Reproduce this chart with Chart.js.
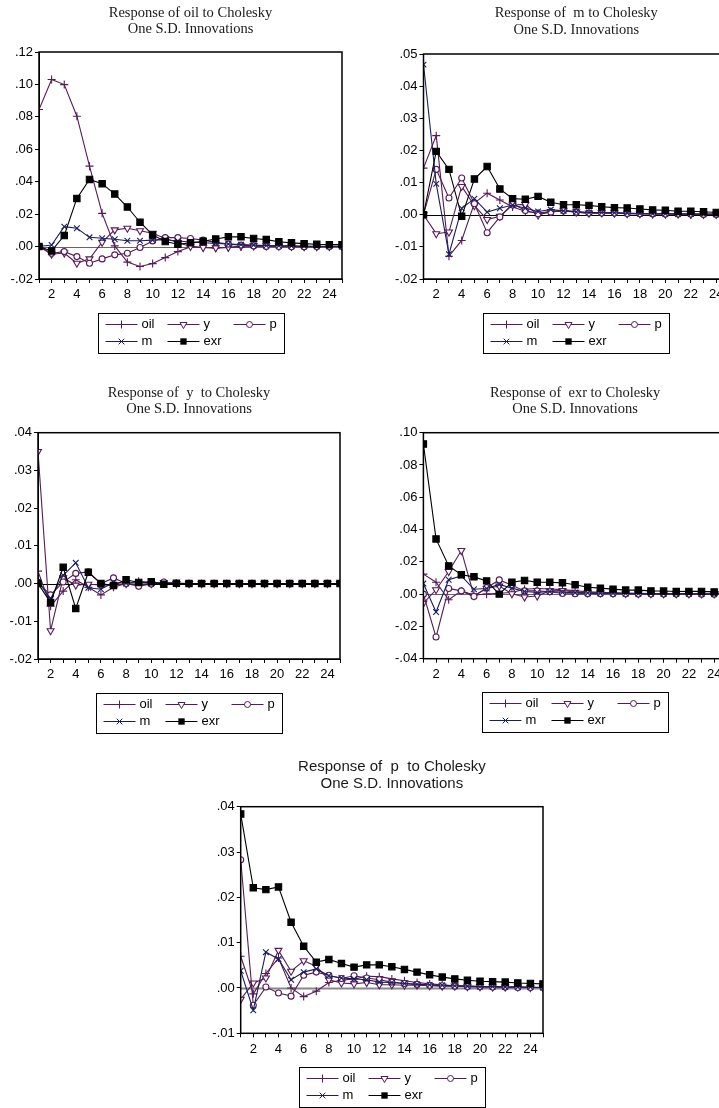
<!DOCTYPE html>
<html>
<head>
<meta charset="utf-8">
<script src="https://cdn.jsdelivr.net/npm/chart.js@4/dist/chart.umd.min.js"></script>
<style>
  html, body { margin: 0; padding: 0; background: #fff; overflow: hidden; }
  body { width: 719px; height: 1108px; position: relative; }
  canvas { position: absolute; }
</style>
</head>
<body>
<canvas id="c1"></canvas>
<canvas id="c2"></canvas>
<canvas id="c3"></canvas>
<canvas id="c4"></canvas>
<canvas id="c5"></canvas>
<script>
// DADOS
const periodos = [1,2,3,4,5,6,7,8,9,10,11,12,13,14,15,16,17,18,19,20,21,22,23,24,25];
const choques = ["oil", "y", "p", "m", "exr"];
const ticksX = [2,4,6,8,10,12,14,16,18,20,22,24];

// Response of oil
const oil_oil = [.0845,.103,.0999,.0804,.0496,.0205,.0004,-.0096,-.0123,-.0105,-.0068,-.0031,-.0002,-.0006,-.0008,-.0006,-.0003,.0000,.0001,.0002,.0001,.0000,.0000,.0000,.0000];
const oil_y   = [0,-.0047,-.004,-.0103,-.0076,.0027,.0103,.0113,.0098,.0082,.005,.0025,.0001,-.0006,-.0008,-.0005,.0003,.0006,.0005,.0003,.0001,-.0001,-.0001,.0000,.0000];
const oil_p   = [0,-.0041,-.0031,-.0062,-.0103,-.0076,-.0051,-.0041,-.0006,.0035,.0055,.0055,.005,.004,.0026,.0015,.0009,.0004,.0001,.0000,-.0001,-.0001,.0000,.0000,.0000];
const oil_m   = [0,.001,.0123,.0113,.0057,.0051,.0045,.0036,.0036,.004,.0042,.0034,.0028,.0024,.002,.0016,.0012,.0009,.0007,.0005,.0004,.0003,.0002,.0002,.0001];
const oil_exr = [0,-.0027,.0068,.0297,.0414,.0388,.0324,.0244,.015,.0072,.0031,.0014,.0023,.0033,.0047,.006,.006,.005,.0043,.003,.0023,.0018,.0014,.0012,.0012];

// Response of m
const m_oil = [.0145,.0246,-.0129,-.008,.0036,.0067,.0046,.0024,.0011,.0005,.001,.0012,.001,.0006,.0007,.0006,.0004,.0003,.0003,.0002,.0002,.0001,.0001,.0001,.0001];
const m_y   = [0,-.0059,-.0054,.0088,.0028,-.0015,-.0005,.003,.0032,-.0001,.001,.0012,.0008,.0005,.0006,.0005,.0003,.0003,.0002,.0002,.0002,.0001,.0001,.0001,.0001];
const m_p   = [0,.0141,.0052,.0114,.0034,-.0056,-.0007,.0034,.0013,.0003,.0008,.0013,.0008,.0005,.0005,.0005,.0004,.0003,.0003,.0002,.0002,.0002,.0001,.0001,.0001];
const m_m   = [.0467,.0096,-.0123,.002,.005,.0008,.002,.003,.002,.001,.0016,.0012,.0009,.0007,.0007,.0006,.0005,.0004,.0003,.0003,.0002,.0002,.0002,.0001,.0001];
const m_exr = [0,.0197,.0141,-.0005,.0111,.015,.008,.005,.0048,.0057,.0039,.0031,.0031,.0029,.0025,.0022,.0021,.0018,.0015,.0014,.0011,.0011,.0009,.0007,.0005];

// Response of y
const y_oil = [.0033,-.006,-.002,.001,-.001,-.003,-.001,.0000,.0006,.0002,.0002,.0001,0,0,0,0,0,0,0,0,0,0,0,0,0];
const y_y   = [.035,-.0125,.0015,-.0004,-.0002,-.0004,-.0005,.0000,-.0004,.0000,.0002,0,0,0,0,0,0,0,0,0,0,0,0,0,0];
const y_p   = [.0002,-.003,.0004,.0027,.0031,.0000,.0015,.0000,-.0007,-.0001,.0004,.0001,0,0,0,0,0,0,0,0,0,0,0,0,0];
const y_m   = [.0006,-.004,.0022,.0055,-.0011,-.0015,.0003,.0001,.0002,.0001,0,0,0,0,0,0,0,0,0,0,0,0,0,0,0];
const y_exr = [0,-.005,.0043,-.0066,.003,.0000,-.0005,.001,.0003,.0005,-.0002,.0001,0,0,0,0,0,0,0,0,0,0,0,0,0];

// Response of exr
const exr_oil = [.0124,.0074,-.0035,.002,-.0005,.0000,.0005,.001,.003,.0035,.0032,.0028,.002,.0015,.0011,.0008,.0006,.0005,.0004,.0003,.0003,.0002,.0002,.0001,.0001];
const exr_y   = [-.0056,.0027,.014,.027,-.001,.0035,.005,.0002,-.0018,-.0012,.002,.0022,.0012,.0008,.0008,.0006,.0004,.0003,.0003,.0002,.0002,.0002,.0001,.0001,.0001];
const exr_p   = [0,-.0266,.0035,.002,-.0015,.004,.0088,.0055,.002,.002,.0015,.0004,.0002,.0003,.0003,.0002,.0002,.0001,.0001,.0001,.0001,.0001,0,0,0];
const exr_m   = [.0066,-.0111,.0089,.0113,.003,.0035,.006,.0037,.0016,.001,.0016,.0012,.0009,.0007,.0006,.0005,.0004,.0003,.0003,.0002,.0002,.0002,.0001,.0001,.0001];
const exr_exr = [.093,.0342,.0175,.012,.0107,.0082,.0000,.0074,.0085,.0074,.0074,.007,.0058,.0043,.0037,.0031,.0025,.0025,.002,.0019,.0016,.0017,.0017,.0014,.0012];

// Response of p
const p_oil = [.007,-.0013,.0032,.0066,.0000,-.0019,-.0007,.0012,.0017,.002,.0026,.0025,.002,.0016,.0012,.0009,.0007,.0005,.0004,.0003,.0003,.0002,.0002,.0001,.0001];
const p_y   = [-.0025,.0011,.0022,.0083,.0037,.006,.0048,.0018,.0011,.0009,.0012,.0007,.0007,.0006,.0006,.0005,.0004,.0004,.0003,.0003,.0002,.0002,.0002,.0001,.0001];
const p_p   = [.0283,-.0038,.0002,-.0011,-.0018,.0028,.0035,.0028,.0021,.0027,.0022,.0018,.0013,.001,.0008,.0006,.0005,.0004,.0003,.0003,.0002,.0002,.0001,.0001,.0001];
const p_m   = [.0038,-.0049,.0079,.0064,.0018,.0035,.0042,.0027,.0022,.002,.0018,.0013,.0012,.001,.0008,.0007,.0006,.0005,.0004,.0003,.0003,.0002,.0002,.0002,.0001];
const p_exr = [.0384,.0221,.0217,.0223,.0145,.0092,.0057,.0063,.0054,.0046,.0051,.0051,.0047,.0041,.0035,.0029,.0024,.002,.0017,.0015,.0014,.0013,.0011,.001,.0009];

// ESTILOS
const roxo = "#561a56";
const azul = "#1a1e60";
const cores = [roxo, roxo, roxo, azul, "#000"];
const marcadores = ["cross", "triangle", "circle", "crossRot", "rect"];
const raios = [4, 4, 3, 4, 4.5];
const rotacoes = [0, 180, 0, 0, 0];
const preenchimentos = ["#fff", "#fff", "#fff", "#fff", "#000"];
const fonteEixo = { family: "'Liberation Sans', Arial, sans-serif", size: 13 };

function formatarY(v) {
    const s = Math.abs(v).toFixed(2).replace(/^0/, "");
    return (v < -1e-9 ? "-" : "") + s;
}

// desenha um marcador da legenda
function marcador(ctx, i, x, y) {
    const r = raios[i];
    ctx.save();
    ctx.strokeStyle = cores[i];
    ctx.fillStyle = preenchimentos[i];
    ctx.lineWidth = 1;
    ctx.beginPath();
    switch (marcadores[i]) {
        case "cross":
            ctx.moveTo(x - r, y); ctx.lineTo(x + r, y);
            ctx.moveTo(x, y - r); ctx.lineTo(x, y + r);
            ctx.stroke();
            break;
        case "crossRot":
            const d = r * Math.SQRT1_2;
            ctx.moveTo(x - d, y - d); ctx.lineTo(x + d, y + d);
            ctx.moveTo(x - d, y + d); ctx.lineTo(x + d, y - d);
            ctx.stroke();
            break;
        case "triangle":
            ctx.moveTo(x - r * 0.87, y - r * 0.5);
            ctx.lineTo(x + r * 0.87, y - r * 0.5);
            ctx.lineTo(x, y + r);
            ctx.closePath();
            ctx.fill(); ctx.stroke();
            break;
        case "circle":
            ctx.arc(x, y, r, 0, Math.PI * 2);
            ctx.fill(); ctx.stroke();
            break;
        case "rect":
            const s = r * Math.SQRT1_2;
            ctx.rect(x - s, y - s, 2 * s, 2 * s);
            ctx.fill();
            break;
    }
    ctx.restore();
}

// plugin: linha zero, moldura, titulo e legenda no estilo EViews
const evPainel = {
    id: "evPainel",
    beforeDatasetsDraw(chart, args, opts) {
        const ctx = chart.ctx, a = chart.chartArea;
        const y0 = Math.round(chart.scales.y.getPixelForValue(0)) + 0.5;
        ctx.save();
        ctx.strokeStyle = opts.corZero;
        ctx.lineWidth = opts.larguraZero;
        ctx.beginPath();
        ctx.moveTo(a.left, y0);
        ctx.lineTo(a.right, y0);
        ctx.stroke();
        ctx.restore();
    },
    afterDraw(chart, args, opts) {
        const ctx = chart.ctx, a = chart.chartArea;
        const cx = (a.left + a.right) / 2;
        ctx.save();
        // moldura
        ctx.strokeStyle = "#000";
        ctx.lineWidth = 1.5;
        ctx.strokeRect(a.left, a.top, a.right - a.left, a.bottom - a.top);

        // titulo
        ctx.fillStyle = "#1a1a1a";
        ctx.font = opts.fonteTitulo;
        ctx.textAlign = "center";
        ctx.textBaseline = "middle";
        ctx.fillText(opts.titulo[0], cx, opts.tituloY[0]);
        ctx.fillText(opts.titulo[1], cx, opts.tituloY[1]);

        // legenda
        const bw = 186, bh = 40;
        const bx = Math.round(cx - bw / 2) + 0.5;
        const by = Math.round(a.bottom + 33.5) + 0.5;
        ctx.lineWidth = 1;
        ctx.strokeRect(bx, by, bw, bh);
        const colX = [7, 69, 135];
        const linY = [11, 28];
        ctx.font = "13px 'Liberation Sans', Arial, sans-serif";
        ctx.textAlign = "left";
        choques.forEach(function (nome, i) {
            const x0 = bx + colX[i % 3];
            const yy = by + linY[i < 3 ? 0 : 1];
            ctx.strokeStyle = cores[i];
            ctx.beginPath();
            ctx.moveTo(x0, yy);
            ctx.lineTo(x0 + 32, yy);
            ctx.stroke();
            marcador(ctx, i, x0 + 16, yy);
            ctx.fillStyle = "#000";
            ctx.fillText(nome, x0 + 36, yy);
        });
        ctx.restore();
    }
};

function criarPainel(id, cfg) {
    const canvas = document.getElementById(id);
    canvas.width = cfg.w;
    canvas.height = cfg.h;
    canvas.style.left = cfg.x + "px";
    canvas.style.top = cfg.y + "px";
    const alturaX = 24;

    const datasets = choques.map(function (nome, i) {
        return {
            label: nome,
            data: periodos.map(function (p, k) { return { x: p, y: cfg.series[i][k] }; }),
            borderColor: cores[i],
            borderWidth: 1.1,
            pointStyle: marcadores[i],
            pointRadius: raios[i],
            pointRotation: rotacoes[i],
            pointBackgroundColor: preenchimentos[i],
            pointBorderColor: cores[i],
            pointBorderWidth: 1.1,
            tension: 0,
            fill: false
        };
    }).reverse(); // exr e m por baixo

    new Chart(canvas, {
        type: "line",
        data: { datasets: datasets },
        options: {
            responsive: false,
            animation: false,
            events: [],
            layout: { padding: { left: 0, top: cfg.area.t, right: cfg.w - cfg.area.r, bottom: cfg.h - cfg.area.b - alturaX } },
            scales: {
                x: {
                    type: "linear", min: 1, max: 25,
                    afterFit: function (s) { s.height = alturaX; },
                    afterBuildTicks: function (s) { s.ticks = periodos.map(function (v) { return { value: v }; }); },
                    ticks: {
                        autoSkip: false, maxRotation: 0, padding: 4, color: "#000", font: fonteEixo,
                        callback: function (v) { return ticksX.indexOf(v) >= 0 ? String(v) : ""; }
                    },
                    grid: { drawOnChartArea: false, drawTicks: true, tickLength: 4, color: "#000", lineWidth: 1 },
                    border: { display: true, color: "#000" }
                },
                y: {
                    min: cfg.yMin, max: cfg.yMax,
                    afterFit: function (s) { s.width = cfg.area.l; },
                    ticks: { stepSize: cfg.passo, padding: 2, color: "#000", font: fonteEixo, callback: formatarY },
                    grid: { drawOnChartArea: false, drawTicks: true, tickLength: 4, color: "#000", lineWidth: 1 },
                    border: { display: true, color: "#000" }
                }
            },
            plugins: {
                legend: { display: false },
                tooltip: { enabled: false },
                evPainel: {
                    titulo: cfg.titulo,
                    tituloY: cfg.tituloY,
                    fonteTitulo: cfg.fonteTitulo,
                    corZero: cfg.corZero,
                    larguraZero: cfg.larguraZero
                }
            }
        },
        plugins: [evPainel]
    });
}

const serifa = "14.5px 'Liberation Serif', 'Times New Roman', serif";

criarPainel("c1", {
    x: 0, y: 0, w: 360, h: 370,
    area: { l: 39, t: 52, r: 342, b: 279 },
    yMin: -0.02, yMax: 0.12, passo: 0.02,
    titulo: ["Response of oil to Cholesky", "One S.D. Innovations"], tituloY: [13, 29],
    fonteTitulo: serifa, corZero: "#666", larguraZero: 1,
    series: [oil_oil, oil_y, oil_p, oil_m, oil_exr]
});

criarPainel("c2", {
    x: 360, y: 0, w: 390, h: 370,
    area: { l: 63.5, t: 54, r: 369, b: 279 },
    yMin: -0.02, yMax: 0.05, passo: 0.01,
    titulo: ["Response of  m to Cholesky", "One S.D. Innovations"], tituloY: [13, 30],
    fonteTitulo: serifa, corZero: "#000", larguraZero: 1,
    series: [m_oil, m_y, m_p, m_m, m_exr]
});

criarPainel("c3", {
    x: 0, y: 370, w: 360, h: 370,
    area: { l: 38, t: 62.7, r: 340, b: 289 },
    yMin: -0.02, yMax: 0.04, passo: 0.01,
    titulo: ["Response of  y  to Cholesky", "One S.D. Innovations"], tituloY: [22.7, 39.3],
    fonteTitulo: serifa, corZero: "#000", larguraZero: 1,
    series: [y_oil, y_y, y_p, y_m, y_exr]
});

criarPainel("c4", {
    x: 360, y: 370, w: 390, h: 370,
    area: { l: 63.4, t: 62.7, r: 366.8, b: 288.7 },
    yMin: -0.04, yMax: 0.10, passo: 0.02,
    titulo: ["Response of  exr to Cholesky", "One S.D. Innovations"], tituloY: [22.7, 39.3],
    fonteTitulo: serifa, corZero: "#666", larguraZero: 1,
    series: [exr_oil, exr_y, exr_p, exr_m, exr_exr]
});

criarPainel("c5", {
    x: 200, y: 740, w: 360, h: 368,
    area: { l: 40.7, t: 66.7, r: 343, b: 293.3 },
    yMin: -0.01, yMax: 0.04, passo: 0.01,
    titulo: ["Response of  p  to Cholesky", "One S.D. Innovations"], tituloY: [26.7, 44],
    fonteTitulo: "15px 'Liberation Sans', Arial, sans-serif", corZero: "#888", larguraZero: 2,
    series: [p_oil, p_y, p_p, p_m, p_exr]
});
</script>
</body>
</html>
